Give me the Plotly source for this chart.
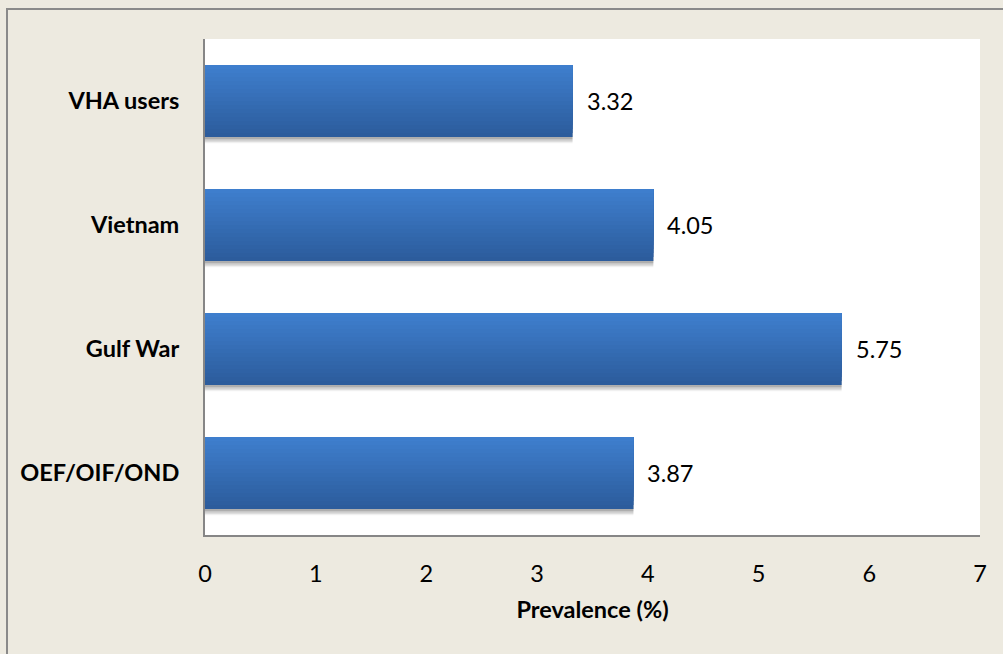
import plotly.graph_objects as go

# Prevalence by veteran group
categories = ["VHA users", "Vietnam", "Gulf War", "OEF/OIF/OND"]
prevalence = [3.32, 4.05, 5.75, 3.87]
x_ticks = [0, 1, 2, 3, 4, 5, 6, 7]

positions = list(range(len(categories) - 1, -1, -1))  # first category at the top

BAR_H = 0.58
N_STEPS = 18
TOP_RGB = (62, 126, 205)
BOT_RGB = (44, 92, 156)
FONT = "Lato"
FS = 23.5


def mix(t):
    r, g, b = (round(BOT_RGB[k] + (TOP_RGB[k] - BOT_RGB[k]) * t) for k in range(3))
    return f"rgb({r},{g},{b})"


fig = go.Figure()

# soft drop shadow beneath each bar
for dy, a in [(0.05, 0.06), (0.04, 0.08), (0.028, 0.10), (0.016, 0.12)]:
    fig.add_trace(go.Bar(
        x=prevalence, y=positions, orientation="h",
        width=BAR_H, offset=-BAR_H / 2 - dy,
        marker=dict(color=f"rgba(0,0,0,{a})", line=dict(width=0)),
        hoverinfo="skip", showlegend=False,
    ))

# vertical gradient: layered bars, each starting higher and lighter, all reaching the top
for i in range(N_STEPS):
    start = -BAR_H / 2 + i * BAR_H / N_STEPS
    fig.add_trace(go.Bar(
        x=prevalence, y=positions, orientation="h",
        width=BAR_H / 2 - start, offset=start,
        marker=dict(color=mix(i / (N_STEPS - 1)), line=dict(width=0)),
        hoverinfo="skip", showlegend=False,
    ))

# value labels
for v, p in zip(prevalence, positions):
    fig.add_annotation(
        x=v, y=p, text=f"{v:.2f}", showarrow=False,
        xanchor="left", yanchor="middle", xshift=12,
        font=dict(family=FONT, size=FS, color="#000000"),
    )

# outer frame
fig.add_shape(
    type="rect", xref="paper", yref="paper",
    x0=(7 - 205) / 775, x1=1.2, y0=-0.5, y1=(535 - 9) / 496,
    line=dict(color="#8a8a8a", width=2), fillcolor="rgba(0,0,0,0)",
)

fig.update_layout(
    width=1003, height=654,
    margin=dict(l=205, r=23, t=39, b=119),
    paper_bgcolor="#EDEAE0", plot_bgcolor="#FFFFFF",
    barmode="overlay", bargap=0.42,
    showlegend=False,
    font=dict(family=FONT, size=FS, color="#000000"),
    xaxis=dict(
        range=[0, 7], tickvals=x_ticks, ticktext=[str(t) for t in x_ticks],
        showgrid=False, zeroline=False,
        showline=True, linecolor="#868686", linewidth=2,
        ticks="outside", ticklen=0, ticklabelstandoff=17,
        tickfont=dict(family=FONT, size=FS, color="#000000"),
        title=dict(text="<b>Prevalence (%)</b>", standoff=15,
                   font=dict(family=FONT, size=FS, color="#000000")),
        fixedrange=True,
    ),
    yaxis=dict(
        range=[-0.5, 3.5], tickvals=positions,
        ticktext=[f"<b>{c}</b>" for c in categories],
        showgrid=False, zeroline=False,
        showline=True, linecolor="#868686", linewidth=2,
        ticks="outside", ticklen=0, ticklabelstandoff=19,
        tickfont=dict(family=FONT, size=FS, color="#000000"),
        fixedrange=True,
    ),
)

fig.write_html("out.html")
